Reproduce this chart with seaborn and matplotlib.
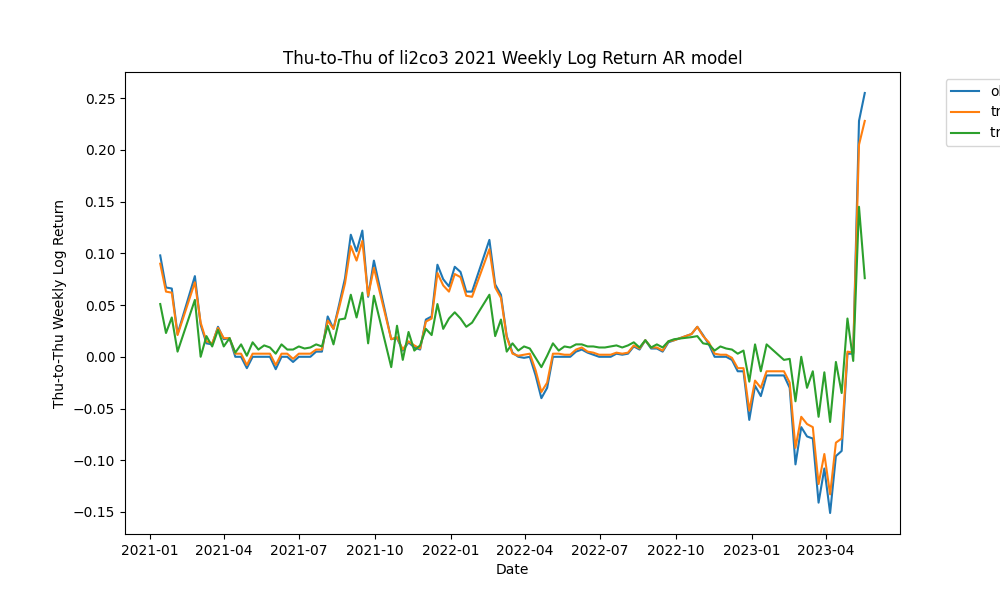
import matplotlib
matplotlib.use("Agg")
import matplotlib.pyplot as plt
import pandas as pd
import seaborn as sns

# weekly Thursdays, holiday weeks (and the week after) have no return
START = "2021-01-14"
END = "2023-05-18"
MISSING = [
    "2021-02-11", "2021-02-18", "2021-10-07", "2021-10-14",
    "2022-02-03", "2022-02-10", "2022-10-06", "2022-10-13",
    "2023-01-26", "2023-02-02",
]

observed = [
    0.098, 0.067, 0.066, 0.022,
    0.078, 0.031, 0.013, 0.012, 0.029, 0.017, 0.018, 0.000, 0.000, -0.011,
    0.000, 0.000, 0.000, 0.000, -0.012, 0.000, 0.000, -0.005, 0.000, 0.000,
    0.000, 0.005, 0.005, 0.039, 0.027, 0.051, 0.076, 0.118, 0.102, 0.122,
    0.058, 0.093,
    0.017, 0.018, 0.006, 0.014, 0.009, 0.007, 0.036, 0.039, 0.089, 0.075,
    0.068, 0.087, 0.082, 0.063, 0.063,
    0.113, 0.070, 0.060, 0.020, 0.004, 0.000, -0.001, 0.000, -0.018, -0.040,
    -0.030, 0.000, 0.000, 0.000, 0.000, 0.005, 0.007, 0.004, 0.002, 0.000,
    0.000, 0.000, 0.003, 0.002, 0.003, 0.010, 0.007, 0.016, 0.008, 0.008,
    0.005, 0.014, 0.016,
    0.022, 0.029, 0.021, 0.012, 0.000, 0.000, 0.000, -0.003, -0.014, -0.014,
    -0.061, -0.028, -0.038, -0.018,
    -0.018, -0.030, -0.104, -0.068, -0.077, -0.079, -0.141, -0.108, -0.151,
    -0.096, -0.091, 0.003, 0.003, 0.228, 0.255,
]
fitted = [
    0.090, 0.063, 0.062, 0.021,
    0.072, 0.033, 0.015, 0.013, 0.028, 0.018, 0.018, 0.003, 0.003, -0.008,
    0.003, 0.003, 0.003, 0.003, -0.008, 0.003, 0.003, -0.002, 0.003, 0.003,
    0.003, 0.007, 0.007, 0.035, 0.027, 0.048, 0.071, 0.107, 0.093, 0.112,
    0.059, 0.086,
    0.017, 0.019, 0.007, 0.015, 0.011, 0.008, 0.034, 0.037, 0.081, 0.069,
    0.063, 0.080, 0.077, 0.059, 0.058,
    0.104, 0.067, 0.057, 0.019, 0.003, 0.001, 0.002, 0.003, -0.013, -0.034,
    -0.025, 0.003, 0.003, 0.002, 0.002, 0.007, 0.009, 0.005, 0.004, 0.002,
    0.002, 0.002, 0.004, 0.003, 0.004, 0.011, 0.008, 0.016, 0.009, 0.009,
    0.006, 0.015, 0.016,
    0.022, 0.029, 0.020, 0.014, 0.003, 0.002, 0.002, -0.001, -0.011, -0.011,
    -0.052, -0.023, -0.030, -0.014,
    -0.014, -0.025, -0.088, -0.058, -0.065, -0.068, -0.123, -0.094, -0.133,
    -0.083, -0.079, 0.005, 0.004, 0.205, 0.228,
]
predicted = [
    0.051, 0.023, 0.038, 0.005,
    0.055, 0.000, 0.020, 0.010, 0.026, 0.010, 0.018, 0.004, 0.012, 0.001,
    0.014, 0.007, 0.011, 0.009, 0.003, 0.012, 0.007, 0.007, 0.010, 0.008,
    0.009, 0.012, 0.010, 0.030, 0.012, 0.036, 0.037, 0.060, 0.038, 0.062,
    0.013, 0.059,
    -0.010, 0.030, -0.003, 0.024, 0.006, 0.011, 0.027, 0.021, 0.051, 0.027,
    0.037, 0.043, 0.037, 0.029, 0.033,
    0.060, 0.020, 0.036, 0.005, 0.013, 0.006, 0.010, 0.008, -0.001, -0.010,
    0.001, 0.013, 0.006, 0.010, 0.009, 0.012, 0.012, 0.010, 0.010, 0.009,
    0.009, 0.010, 0.011, 0.009, 0.011, 0.014, 0.009, 0.016, 0.009, 0.012,
    0.009, 0.015, 0.017,
    0.019, 0.020, 0.013, 0.012, 0.006, 0.010, 0.008, 0.007, 0.003, 0.006,
    -0.024, 0.012, -0.014, 0.012,
    -0.003, -0.002, -0.043, 0.000, -0.030, -0.014, -0.058, -0.015, -0.063,
    -0.005, -0.035, 0.037, -0.004, 0.145, 0.076,
]
labels = ["observed", "trend", "train fitted"]

dates = pd.date_range(START, END, freq="7D")
dates = dates[~dates.isin(pd.to_datetime(MISSING))]

df = pd.DataFrame({"Date": dates, labels[0]: observed, labels[1]: fitted, labels[2]: predicted})
long_df = df.melt(id_vars="Date", var_name="series", value_name="value")

fig, ax = plt.subplots(figsize=(10, 6), dpi=100)
sns.lineplot(
    data=long_df, x="Date", y="value", hue="series",
    palette=["#1f77b4", "#ff7f0e", "#2ca02c"], ax=ax,
)
ax.set_title("Thu-to-Thu of li2co3 2021 Weekly Log Return AR model")
ax.set_xlabel("Date")
ax.set_ylabel("Thu-to-Thu Weekly Log Return")
ax.legend(bbox_to_anchor=(1.05, 1), loc="upper left")

fig.savefig("out.png", dpi=100)
